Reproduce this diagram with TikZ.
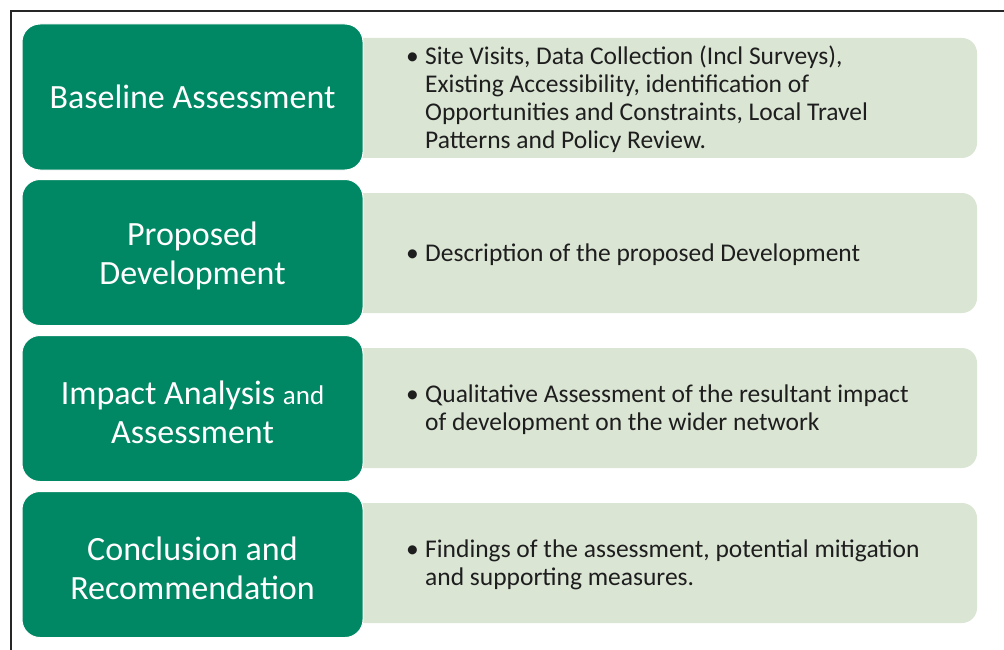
\documentclass[tikz,border=0pt]{standalone}
\usepackage{fontspec}
\setmainfont{Carlito}
\definecolor{hdgreen}{RGB}{0,135,100}
\definecolor{lightgreen}{RGB}{218,229,212}
\definecolor{bodytext}{RGB}{30,30,30}
\newcommand{\bul}{\makebox[19pt][l]{\textbullet}}
\begin{document}
\begin{tikzpicture}[x=1pt,y=-1pt,
  headbox/.style={draw=white, line width=1pt, fill=hdgreen, rounded corners=18pt,
    minimum width=341pt, minimum height=146pt, inner sep=0pt},
  headtext/.style={text=white, align=center, inner sep=0pt,
    font=\fontsize{34}{39}\selectfont},
  bodybox/.style={fill=lightgreen, rounded corners=15pt,
    minimum width=647pt, minimum height=120pt, inner sep=0pt},
  bodytextnode/.style={anchor=west, text=bodytext, inner sep=0pt,
    font=\fontsize{25.5}{28}\selectfont}
]
\useasboundingbox (0,0) rectangle (1004,650);
\coordinate (fa) at (11,650);
\coordinate (fb) at (11,11);
\coordinate (fc) at (1004,11);
\draw[line width=1.5pt, black!85] (fa) -- (fb) -- (fc);

% light boxes
\node[bodybox] (b1) at (653.5,98) {};
\node[bodybox] (b2) at (653.5,253) {};
\node[bodybox] (b3) at (653.5,408) {};
\node[bodybox] (b4) at (653.5,563) {};

% green heads
\node[headbox] (h1) at (192.5,97) {};
\node[headbox] (h2) at (192.5,252.5) {};
\node[headbox] (h3) at (192.5,408.5) {};
\node[headbox] (h4) at (192.5,564.5) {};
\node[headtext] (h1t) at (h1.center) {Baseline Assessment};
\node[headtext] (h2t) at ([yshift=-3.5pt]h2.center) {Proposed\\Development};
\node[headtext] (h3t) at ([yshift=-3.5pt]h3.center) {Impact Analysis {\fontsize{27}{39}\selectfont and}\\Assessment};
\node[headtext] (h4t) at ([yshift=-3.5pt]h4.center) {Conclusion and\\Recommendation};

% body texts
\node[bodytextnode] (t1) at (406,100.5) {\begin{tabular}{@{}l@{}l@{}}
\bul & Site Visits, Data Collection (Incl Surveys),\\
 & Existing Accessibility, identification of\\
 & Opportunities and Constraints, Local Travel\\
 & Patterns and Policy Review.
\end{tabular}};
\node[bodytextnode] (t2) at (406,255.5) {\begin{tabular}{@{}l@{}l@{}}
\bul & Description of the proposed Development
\end{tabular}};
\node[bodytextnode] (t3) at (406,410.5) {\begin{tabular}{@{}l@{}l@{}}
\bul & Qualitative Assessment of the resultant impact\\
 & of development on the wider network
\end{tabular}};
\node[bodytextnode] (t4) at (406,565.5) {\begin{tabular}{@{}l@{}l@{}}
\bul & Findings of the assessment, potential mitigation\\
 & and supporting measures.
\end{tabular}};
\end{tikzpicture}
\end{document}
